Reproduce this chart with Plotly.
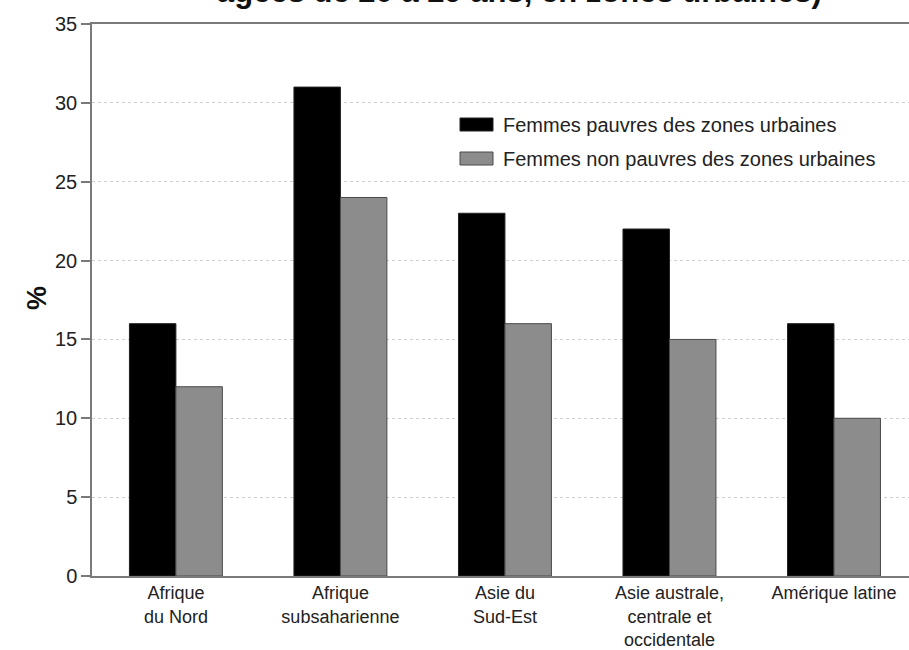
import plotly.graph_objects as go

categories = ["Afrique<br>du Nord", "Afrique<br>subsaharienne", "Asie du<br>Sud-Est",
              "Asie australe,<br>centrale et<br>occidentale", "Amérique latine"]
series_names = ["Femmes pauvres des zones urbaines", "Femmes non pauvres des zones urbaines"]
poor_values = [16, 31, 23, 22, 16]
nonpoor_values = [12, 24, 16, 15, 10]
y_ticks = [0, 5, 10, 15, 20, 25, 30, 35]

FONT = "Liberation Sans, Arial, sans-serif"
colors = ["#000000", "#8c8c8c"]
edges = ["#222222", "#4a4a4a"]

fig = go.Figure()
for name, vals, c, e in zip(series_names, [poor_values, nonpoor_values], colors, edges):
    fig.add_trace(go.Bar(x=categories, y=vals, name=name, marker=dict(color=c, line=dict(color=e, width=1)),
                         showlegend=False))

W, H = 909, 650
L, R, T, B = 92, 0, 24, 74
pw, ph = W - L - R, H - T - B

def px(x):
    return (x - L) / pw

def py(y):
    return (H - B - y) / ph

shapes = []
annotations = []
legend_rows = [(118, 131), (152, 165)]
for (y0, y1), name, c, e in zip(legend_rows, series_names, colors, edges):
    shapes.append(dict(type="rect", xref="paper", yref="paper", x0=px(460), x1=px(493),
                       y0=py(y1), y1=py(y0), fillcolor=c, line=dict(color=e, width=1)))
    annotations.append(dict(text=name, xref="paper", yref="paper", x=px(501), y=py((y0 + y1) / 2 + 0.5),
                            xanchor="left", yanchor="middle", showarrow=False,
                            font=dict(family=FONT, size=20, color="#222222")))

annotations.append(dict(text="<b>âgées de 20 à 29 ans, en zones urbaines)</b>", xref="paper", yref="paper",
                        x=px(519), y=py(11), xanchor="center", yanchor="bottom", showarrow=False,
                        font=dict(family=FONT, size=31, color="#111111")))
annotations.append(dict(text="<b>%</b>", xref="paper", yref="paper", x=px(37), y=py(298),
                        xanchor="center", yanchor="middle", textangle=-90, showarrow=False,
                        font=dict(family=FONT, size=27, color="#111111")))

fig.update_layout(
    width=W, height=H,
    margin=dict(l=L, r=R, t=T, b=B, autoexpand=False),
    paper_bgcolor="white", plot_bgcolor="white",
    barmode="group", bargap=0.435, bargroupgap=0,
    font=dict(family=FONT, size=20, color="#222222"),
    shapes=shapes, annotations=annotations,
    xaxis=dict(range=[-0.51, 4.456], showline=True, linecolor="#7a7a7a", linewidth=1.5, mirror=True,
               ticks="", showgrid=False, tickfont=dict(size=18, color="#222222")),
    yaxis=dict(range=[0, 35], tickvals=y_ticks, showline=True, linecolor="#7a7a7a", linewidth=1.5,
               ticks="outside", ticklen=9, tickcolor="#7a7a7a", tickwidth=1.5,
               showgrid=True, gridcolor="#cfcfcf", griddash="dot", gridwidth=1,
               zeroline=False, tickfont=dict(size=20, color="#222222")),
)

fig.write_html("out.html")
